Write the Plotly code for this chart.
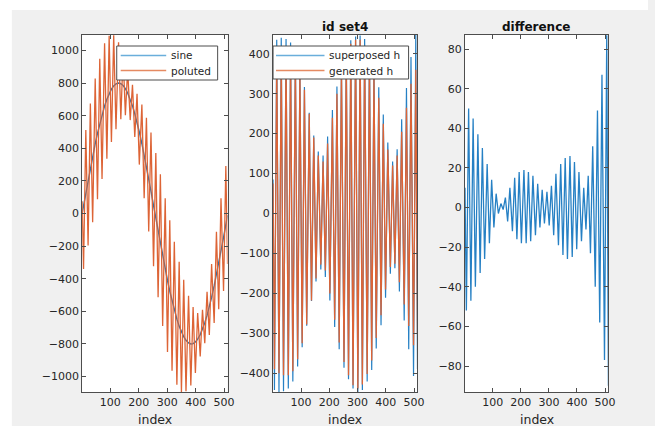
import plotly.graph_objects as go

# sample index of each extremum (start, trough/peak pairs, end)
idx = [1, 6, 14, 22, 30, 38, 47, 55, 63, 71, 80, 88, 96, 104, 112, 120, 129, 137, 145, 153,
       161, 170, 178, 186, 194, 202, 211, 219, 227, 235, 243, 252, 260, 268, 276, 284, 293,
       301, 309, 317, 325, 334, 342, 350, 358, 366, 375, 383, 391, 399, 407, 416, 424, 432,
       440, 448, 456, 465, 473, 481, 489, 498, 506, 512]

sine = [0, 49, 127, 204, 279, 351, 428, 492, 552, 606, 660, 701, 735, 763, 783, 795, 800, 796,
        785, 766, 739, 701, 660, 612, 559, 500, 428, 360, 288, 213, 137, 49, -29, -108, -185,
        -260, -342, -411, -477, -537, -593, -648, -691, -728, -756, -778, -794, -800, -798,
        -788, -771, -743, -710, -670, -625, -573, -515, -444, -377, -306, -232, -146, -69, -10]

poluted = [75, -341, 512, -196, 674, -54, 828, 87, 950, 211, 1045, 336, 1090, 438, 1093, 517,
           1050, 578, 975, 603, 884, 573, 790, 469, 734, 300, 668, 94, 588, -110, 497, -323,
           371, -513, 240, -690, 93, -849, -42, -965, -173, -1050, -296, -1096, -406, -1090,
           -504, -1055, -573, -978, -611, -877, -590, -796, -480, -745, -310, -672, -112, -588,
           93, -476, 291, -310]

generated_h = [75, -390, 385, -400, 395, -405, 400, -405, 398, -395, 385, -365, 355, -325, 310,
               -278, 250, -218, 190, -163, 145, -128, 130, -143, 175, -200, 240, -266, 300, -323,
               360, -372, 400, -405, 425, -430, 435, -438, 435, -428, 420, -402, 395, -368, 350,
               -312, 290, -255, 225, -190, 160, -134, 120, -126, 145, -172, 205, -228, 265, -282,
               325, -330, 360, -300]

superposed_h = [85, -442, 435, -447, 440, -445, 437, -438, 428, -421, 407, -383, 369, -335, 317,
                -281, 252, -219, 195, -170, 155, -140, 145, -159, 193, -218, 259, -284, 318, -340,
                376, -386, 412, -415, 434, -438, 443, -447, 446, -442, 437, -421, 417, -392, 375,
                -338, 316, -280, 248, -211, 178, -151, 130, -137, 161, -195, 236, -268, 314, -340,
                392, -407, 447, -390]

difference = [10, -52, 50, -47, 45, -40, 37, -33, 30, -26, 22, -18, 14, -10, 7, -3, 2, -1, 5,
              -7, 10, -12, 15, -16, 18, -18, 19, -18, 18, -17, 16, -14, 12, -10, 9, -8, 8, -9,
              11, -14, 17, -19, 22, -24, 25, -26, 26, -25, 23, -21, 18, -17, 10, -11, 16, -23,
              31, -40, 49, -58, 67, -77, 87, -90]

x_ticks = [100, 200, 300, 400, 500]
y1_ticks = [-1000, -800, -600, -400, -200, 0, 200, 400, 600, 800, 1000]
y2_ticks = [-400, -300, -200, -100, 0, 100, 200, 300, 400]
y3_ticks = [-80, -60, -40, -20, 0, 20, 40, 60, 80]

legend1_names = ['sine', 'poluted']
legend2_names = ['superposed h', 'generated h']

BLUE = '#2680C4'
ORANGE = '#DD6436'
SINE = '#3C6F9E'
LEG_BLUE = '#6AAEDB'
LEG_ORANGE = '#E58A62'
AX = '#4d4d4d'
TXT = '#262626'
FONT = 'DejaVu Sans'
W, H = 655, 426


def px(x):
    return x / W


def py(y):
    return 1 - y / H


fig = go.Figure()
fig.add_trace(go.Scatter(x=idx, y=sine, mode='lines', name=legend1_names[0], showlegend=False,
                         line=dict(color=SINE, width=1.4), xaxis='x', yaxis='y'))
fig.add_trace(go.Scatter(x=idx, y=poluted, mode='lines', name=legend1_names[1], showlegend=False,
                         line=dict(color=ORANGE, width=1.3), xaxis='x', yaxis='y'))
fig.add_trace(go.Scatter(x=idx, y=superposed_h, mode='lines', name=legend2_names[0], showlegend=False,
                         line=dict(color=BLUE, width=1.2), xaxis='x2', yaxis='y2'))
fig.add_trace(go.Scatter(x=idx, y=generated_h, mode='lines', name=legend2_names[1], showlegend=False,
                         line=dict(color=ORANGE, width=1.3), xaxis='x2', yaxis='y2'))
fig.add_trace(go.Scatter(x=idx, y=difference, mode='lines', name='difference', showlegend=False,
                         line=dict(color=BLUE, width=1.3), xaxis='x3', yaxis='y3'))


def axis(**kw):
    d = dict(showline=True, linecolor=AX, linewidth=1, mirror='ticks', ticks='inside',
             ticklen=4, tickcolor=AX, showgrid=False, zeroline=False,
             tickfont=dict(family=FONT, size=11, color=TXT))
    d.update(kw)
    return d


ydom = [py(392), py(35)]
layout = dict(width=W, height=H, margin=dict(l=0, r=0, t=0, b=0),
              paper_bgcolor='#f0f0f0', plot_bgcolor='white', showlegend=False)
layout['xaxis'] = axis(domain=[px(83), px(230)], range=[1, 512], tickvals=x_ticks, anchor='y')
layout['yaxis'] = axis(domain=ydom, range=[-1095, 1095], tickvals=y1_ticks, anchor='x')
layout['xaxis2'] = axis(domain=[px(276), px(422)], range=[1, 512], tickvals=x_ticks, anchor='y2')
layout['yaxis2'] = axis(domain=ydom, range=[-447, 447], tickvals=y2_ticks, anchor='x2')
layout['xaxis3'] = axis(domain=[px(470), px(615)], range=[1, 512], tickvals=x_ticks, anchor='y3')
layout['yaxis3'] = axis(domain=ydom, range=[-93.1, 87.1], tickvals=y3_ticks, anchor='x3')
fig.update_layout(**layout)

# white page border around the grey figure
fig.add_shape(type='rect', xref='paper', yref='paper', x0=0, x1=px(12), y0=0, y1=1,
              fillcolor='white', line=dict(width=0), layer='below')
fig.add_shape(type='rect', xref='paper', yref='paper', x0=0, x1=1, y0=py(10), y1=1,
              fillcolor='white', line=dict(width=0), layer='below')


def legend_box(x0, x1, y0, y1, line_x0, line_x1, text_x, row_y, names):
    fig.add_shape(type='rect', xref='paper', yref='paper', x0=px(x0), x1=px(x1),
                  y0=py(y1), y1=py(y0), fillcolor='white', line=dict(color=AX, width=1),
                  layer='above')
    for name, color, yy in zip(names, [LEG_BLUE, LEG_ORANGE], row_y):
        fig.add_shape(type='line', xref='paper', yref='paper', x0=px(line_x0), x1=px(line_x1),
                      y0=py(yy), y1=py(yy), line=dict(color=color, width=1.3), layer='above')
        fig.add_annotation(text=name, xref='paper', yref='paper', x=px(text_x), y=py(yy),
                           xanchor='left', yanchor='middle', showarrow=False,
                           font=dict(family=FONT, size=10.5, color=TXT))


legend_box(118, 220, 46, 80, 122, 168, 171, [55.5, 70.5], legend1_names)
legend_box(276, 413, 46, 79, 279, 328, 331, [55.5, 70.5], legend2_names)

for cx in [(83 + 230) / 2, (276 + 422) / 2, (470 + 615) / 2]:
    fig.add_annotation(text='index', xref='paper', yref='paper', x=px(cx), y=py(419),
                       xanchor='center', yanchor='middle', showarrow=False,
                       font=dict(family=FONT, size=12.5, color=TXT))
fig.add_annotation(text='<b>id set4</b>', xref='paper', yref='paper', x=px(349), y=py(27),
                   xanchor='center', yanchor='middle', showarrow=False,
                   font=dict(family=FONT, size=12, color='#111111'))
fig.add_annotation(text='<b>difference</b>', xref='paper', yref='paper', x=px(542), y=py(27),
                   xanchor='center', yanchor='middle', showarrow=False,
                   font=dict(family=FONT, size=12, color='#111111'))

fig.write_html('out.html')
